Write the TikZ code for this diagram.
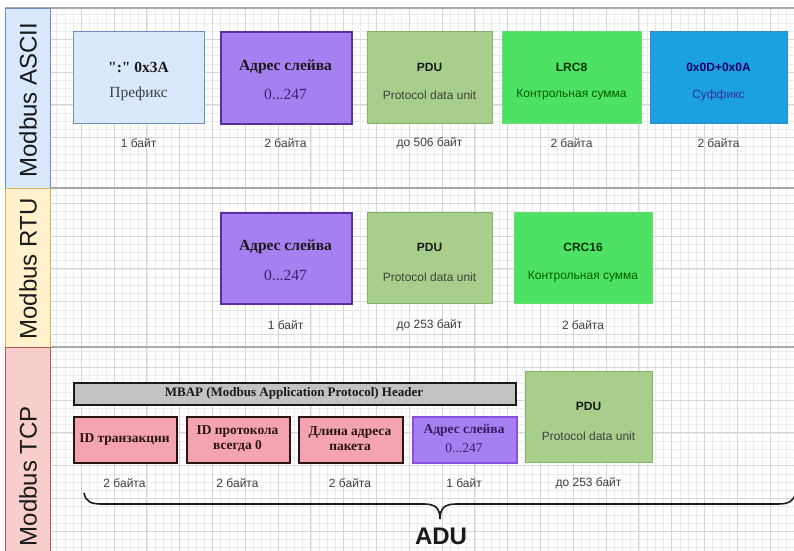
\documentclass[tikz,border=0pt]{standalone}
\usepackage{fontspec}
\setmainfont{Liberation Serif}
\setsansfont{Liberation Sans}
\newfontfamily\qfont{Liberation Serif}[Ligatures=TeXOff]
\definecolor{gridminor}{HTML}{EBEBEB}
\definecolor{gridmajor}{HTML}{D6D6D6}
\definecolor{lanegray}{HTML}{A8A8A8}
\definecolor{preF}{HTML}{DAE8FC}\definecolor{preD}{HTML}{6C8EBF}
\definecolor{adrF}{HTML}{A67FF0}\definecolor{adrD}{HTML}{5A2E9E}\definecolor{adrD2}{HTML}{8A4FE0}
\definecolor{pduF}{HTML}{A7CF8B}\definecolor{pduD}{HTML}{82B366}
\definecolor{lrcF}{HTML}{4DE264}\definecolor{lrcD}{HTML}{6BDB78}
\definecolor{sufF}{HTML}{1BA1E2}\definecolor{sufD}{HTML}{3A87C8}
\definecolor{pinkF}{HTML}{F4A3B0}\definecolor{pinkD}{HTML}{2B1414}
\definecolor{mbapF}{HTML}{C3C3C3}
\definecolor{rtuF}{HTML}{FFF2CC}\definecolor{rtuD}{HTML}{D6B656}
\definecolor{tcpF}{HTML}{F8CECC}\definecolor{tcpD}{HTML}{B85450}
\definecolor{txtdark}{HTML}{1A1A1A}
\definecolor{txtgray}{HTML}{404040}
\tikzset{
  fbox/.style={inner sep=0pt, anchor=north west, line width=1pt},
  ttlserif/.style={font=\fontsize{15.5}{17}\selectfont\bfseries, text=txtdark},
  subserif/.style={font=\fontsize{15.5}{17}\selectfont, text=txtgray},
  ttlsans/.style={font=\sffamily\fontsize{12}{14}\selectfont\bfseries, text=txtdark},
  subsans/.style={font=\sffamily\fontsize{12}{14}\selectfont, text=txtgray},
  bytes/.style={font=\sffamily\fontsize{12}{14}\selectfont, text=txtgray},
  tcpserif/.style={font=\fontsize{13.5}{16}\selectfont\bfseries, text=txtdark, align=center},
  lanelabel/.style={font=\sffamily\fontsize{24}{26}\selectfont, text=txtdark, rotate=90},
}
\begin{document}
\begin{tikzpicture}[x=1pt,y=-1pt]
\useasboundingbox (0,0) rectangle (794,550);
\fill[white] (0,0) rectangle (794,550);
% grid
\begin{scope}
\clip (50,8) rectangle (794,550);
\foreach \x in {48.4,56.6,...,800} \draw[gridminor, line width=0.6pt] (\x,0) -- (\x,560);
\foreach \y in {6.4,14.6,...,560} \draw[gridminor, line width=0.6pt] (40,\y) -- (800,\y);
\foreach \x in {48.4,81.2,...,800} \draw[gridmajor, line width=0.7pt] (\x,0) -- (\x,560);
\foreach \y in {6.4,39.2,...,560} \draw[gridmajor, line width=0.7pt] (40,\y) -- (800,\y);
\end{scope}
% lanes
\draw[lanegray, line width=1.4pt] (5,8) -- (794,8);
\draw[lanegray, line width=1.4pt] (5,188) -- (794,188);
\draw[lanegray, line width=1.4pt] (5,347) -- (794,347);
\node[fbox, fill=preF, draw=preD, minimum width=45pt, minimum height=180pt] (laneA) at (5,8) {};
\node[fbox, fill=rtuF, draw=rtuD, minimum width=45pt, minimum height=159pt] (laneR) at (5,188) {};
\node[fbox, fill=tcpF, draw=tcpD, minimum width=45pt, minimum height=210pt] (laneT) at (5,347) {};
\node[lanelabel] (labA) at (28,100) {Modbus ASCII};
\node[lanelabel] (labR) at (28,269) {Modbus RTU};
\node[lanelabel] (labT) at (28,476) {Modbus TCP};

% ASCII row
\node[fbox, fill=preF, draw=preD, minimum width=131pt, minimum height=92pt] (a1) at (73,31) {};
\node[ttlserif, font=\qfont\fontsize{15.5}{17}\selectfont\bfseries] (a1t) at (138.5,67) {":" 0x3A};
\node[subserif] (a1s) at (138.5,94) {Префикс};
\node[fbox, fill=adrF, draw=adrD, line width=1.8pt, minimum width=131pt, minimum height=92pt] (a2) at (220,31) {};
\node[ttlserif] (a2t) at (285.5,67) {Адрес слейва};
\node[subserif, text=adrD!70!black] (a2s) at (285.5,94) {0...247};
\node[fbox, fill=pduF, draw=pduD, minimum width=125pt, minimum height=92pt] (a3) at (367,31) {};
\node[ttlsans] (a3t) at (429.5,67) {PDU};
\node[subsans] (a3s) at (429.5,95) {Protocol data unit};
\node[fbox, fill=lrcF, draw=lrcD, minimum width=139pt, minimum height=92pt] (a4) at (502,31) {};
\node[ttlsans, text=green!20!black] (a4t) at (571.5,67) {LRC8};
\node[subsans, text=green!35!black] (a4s) at (571.5,95) {Контрольная сумма};
\node[fbox, fill=sufF, draw=sufD, minimum width=137pt, minimum height=92pt] (a5) at (650,31) {};
\node[ttlsans, text=blue!40!black] (a5t) at (718.5,67) {0x0D+0x0A};
\node[subsans, text=blue!50!black!80] (a5s) at (718.5,95) {Суффикс};
\node[bytes] (a1b) at (138.5,143) {1 байт};
\node[bytes] (a2b) at (285.5,143) {2 байта};
\node[bytes] (a3b) at (429.5,143) {до 506 байт};
\node[bytes] (a4b) at (571.5,143) {2 байта};
\node[bytes] (a5b) at (718.5,143) {2 байта};

% RTU row
\node[fbox, fill=adrF, draw=adrD, line width=1.8pt, minimum width=131pt, minimum height=91pt] (r1) at (220,212) {};
\node[ttlserif] (r1t) at (285.5,247) {Адрес слейва};
\node[subserif, text=adrD!70!black] (r1s) at (285.5,275) {0...247};
\node[fbox, fill=pduF, draw=pduD, minimum width=125pt, minimum height=91pt] (r2) at (367,212) {};
\node[ttlsans] (r2t) at (429.5,247) {PDU};
\node[subsans] (r2s) at (429.5,277) {Protocol data unit};
\node[fbox, fill=lrcF, draw=lrcD, minimum width=138pt, minimum height=91pt] (r3) at (514,212) {};
\node[ttlsans, text=green!20!black] (r3t) at (583,247) {CRC16};
\node[subsans, text=green!35!black] (r3s) at (583,277) {Контрольная сумма};
\node[bytes] (r1b) at (285.5,325) {1 байт};
\node[bytes] (r2b) at (429.5,325) {до 253 байт};
\node[bytes] (r3b) at (583,325) {2 байта};

% TCP row
\node[fbox, fill=mbapF, draw=txtdark, line width=2.4pt, minimum width=442pt, minimum height=22pt] (mb) at (73,382) {};
\node[tcpserif, font=\fontsize{13}{15}\selectfont\bfseries] (mbt) at (294,393) {MBAP (Modbus Application Protocol) Header};
\node[fbox, fill=pinkF, draw=pinkD, line width=2pt, minimum width=103pt, minimum height=46pt] (t1) at (73,416) {};
\node[tcpserif, text=pinkD] (t1t) at (124.5,440) {ID транзакции};
\node[fbox, fill=pinkF, draw=pinkD, line width=2pt, minimum width=103pt, minimum height=46pt] (t2) at (186,416) {};
\node[tcpserif, text=pinkD] (t2t) at (237.5,439) {ID протокола\\[-1pt]всегда 0};
\node[fbox, fill=pinkF, draw=pinkD, line width=2pt, minimum width=104pt, minimum height=46pt] (t3) at (298,416) {};
\node[tcpserif, text=pinkD] (t3t) at (350,439) {Длина адреса\\[-1pt]пакета};
\node[fbox, fill=adrF, draw=adrD2, line width=1.8pt, minimum width=104pt, minimum height=46pt] (t4) at (412,416) {};
\node[tcpserif, text=adrD!60!black] (t4t) at (464,430) {Адрес слейва};
\node[subserif, font=\fontsize{13.5}{16}\selectfont, text=adrD!70!black] (t4s) at (464,448) {0...247};
\node[fbox, fill=pduF, draw=pduD, minimum width=127pt, minimum height=91pt] (t5) at (525,371) {};
\node[ttlsans] (t5t) at (588.5,406) {PDU};
\node[subsans] (t5s) at (588.5,436) {Protocol data unit};
\node[bytes] (t1b) at (124.5,483) {2 байта};
\node[bytes] (t2b) at (237.5,483) {2 байта};
\node[bytes] (t3b) at (350,483) {2 байта};
\node[bytes] (t4b) at (464,483) {1 байт};
\node[bytes] (t5b) at (588.5,483) {до 253 байт};

% brace
\coordinate (bL) at (84,493);
\coordinate (bM) at (440,519);
\coordinate (bR) at (796,492);
\draw[txtdark, line width=1.6pt] (bL) .. controls (86,502) and (91,504) .. (102,504) -- (424,504)
  .. controls (434,504) and (440,507) .. (bM)
  .. controls (440,507) and (446,504) .. (456,504) -- (778,504)
  .. controls (789,504) and (794,501) .. (bR);
\node[font=\sffamily\fontsize{24}{26}\selectfont\bfseries, text=txtdark] (adu) at (441,536) {ADU};
\end{tikzpicture}
\end{document}
